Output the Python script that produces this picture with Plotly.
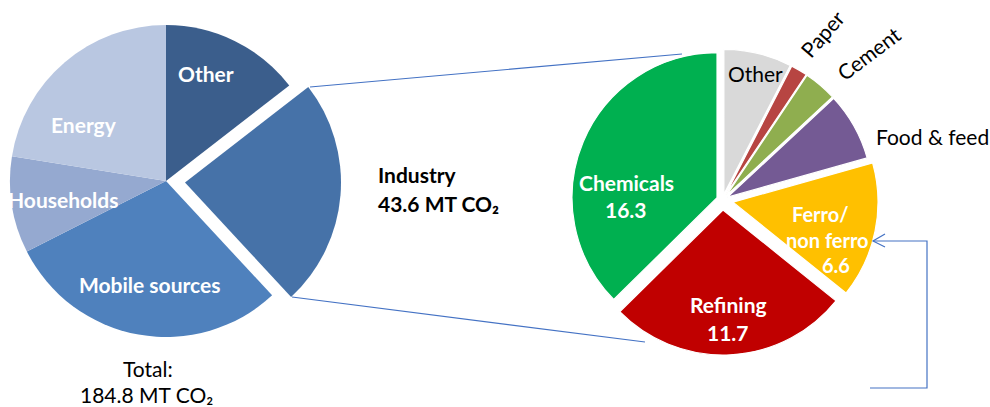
import plotly.graph_objects as go

W, H = 990, 407

# ---- data ----
total_labels = ["Other", "Industry", "Mobile sources", "Households", "Energy"]
total_values = [26.8, 43.6, 54.4, 18.5, 41.5]
total_colors = ["#3B5E8C", "#4672A8", "#4F81BD", "#95A9D0", "#B9C7E1"]

# industry breakdown, listed clockwise from 12 o'clock
ind_labels = ["Other", "Paper", "Cement", "Food & feed", "Ferro/non ferro", "Refining", "Chemicals"]
ind_values = [3.3, 0.8, 1.6, 3.3, 6.6, 11.7, 16.3]
ind_colors = ["#D9D9D9", "#B74542", "#8FAE4F", "#745A94", "#FFC000", "#C00000", "#00B050"]
ind_pull = [0.04, 0.04, 0.04, 0.04, 0.074, 0.069, 0.041]

FONT = "Lato"
FS = 21


def px(x):
    return x / W


def py(y):
    return 1 - y / H


def dom(cx, cy, half):
    return dict(x=[(cx - half) / W, (cx + half) / W],
                y=[1 - (cy + half) / H, 1 - (cy - half) / H])


fig = go.Figure()

# left pie: all slices except the exploded one
L_CX, L_CY, L_R = 166, 181, 156
OFF_X, OFF_Y = 19, 1.6
base_colors = [c if l != "Industry" else "rgba(0,0,0,0)" for l, c in zip(total_labels, total_colors)]
ind_only = [c if l == "Industry" else "rgba(0,0,0,0)" for l, c in zip(total_labels, total_colors)]

fig.add_trace(go.Pie(labels=total_labels, values=total_values, sort=False,
                     direction="clockwise", rotation=0,
                     marker=dict(colors=base_colors, line=dict(width=0)),
                     textinfo="none", hoverinfo="label+value",
                     domain=dom(L_CX, L_CY, L_R), showlegend=False))
fig.add_trace(go.Pie(labels=total_labels, values=total_values, sort=False,
                     direction="clockwise", rotation=0,
                     marker=dict(colors=ind_only, line=dict(width=0)),
                     textinfo="none", hoverinfo="label+value",
                     domain=dom(L_CX + OFF_X, L_CY + OFF_Y, L_R), showlegend=False))

# right pie: industry breakdown
R_CX, R_CY, R_R = 722.5, 200, 145
fig.add_trace(go.Pie(labels=ind_labels, values=ind_values, sort=False,
                     direction="clockwise", rotation=0,
                     pull=ind_pull,
                     marker=dict(colors=ind_colors, line=dict(color="white", width=1.2)),
                     textinfo="none", hoverinfo="label+value",
                     domain=dom(R_CX, R_CY, R_R * (1 + max(ind_pull))), showlegend=False))

LINE = dict(color="#4472C4", width=1.2)
shapes = [
    dict(type="line", xref="paper", yref="paper", x0=px(310), y0=py(87), x1=px(682), y1=py(54), line=LINE),
    dict(type="line", xref="paper", yref="paper", x0=px(292), y0=py(297), x1=px(645), y1=py(342), line=LINE),
    dict(type="path", xref="paper", yref="paper",
         path=f"M {px(870)} {py(388)} L {px(927)} {py(388)} L {px(927)} {py(241)} L {px(873)} {py(241)}",
         line=LINE),
    dict(type="path", xref="paper", yref="paper",
         path=f"M {px(885)} {py(234)} L {px(873)} {py(241)} L {px(885)} {py(247)}",
         line=LINE),
]

annots = []


def txt(t, x, y, size=FS, color="white", bold=True, angle=0, xanchor="center"):
    annots.append(dict(text=f"<b>{t}</b>" if bold else t, x=px(x), y=py(y), xref="paper", yref="paper",
                       showarrow=False, xanchor=xanchor, yanchor="middle", textangle=angle,
                       font=dict(family=FONT, size=size, color=color)))


# left pie labels
txt("Other", 206, 73)
txt("Energy", 84, 124)
txt("Households", 63, 199)
txt("Mobile sources", 149, 284)
txt("Total:", 148, 368, color="black", bold=False)
txt("184.8 MT CO₂", 146, 394, color="black", bold=False)

# middle
txt("Industry", 376, 175, color="black", xanchor="left")
txt("43.6 MT CO₂", 376, 203, color="black", xanchor="left")

# right pie labels
txt("Chemicals", 626, 182)
txt("16.3", 626, 209)
txt("Refining", 728, 304)
txt("11.7", 728, 332)
txt("Ferro/", 820, 214, size=20)
txt("non ferro", 827, 240, size=20)
txt("6.6", 836, 265, size=20)
txt("Other", 755, 73, color="black", bold=False)
txt("Paper", 822, 33, color="black", bold=False, angle=-49)
txt("Cement", 868, 53, color="black", bold=False, angle=-37)
txt("Food & feed", 932, 136, color="black", bold=False)

fig.update_layout(width=W, height=H, margin=dict(l=0, r=0, t=0, b=0),
                  paper_bgcolor="white", plot_bgcolor="white",
                  shapes=shapes, annotations=annots, showlegend=False)

fig.write_html("out.html")
